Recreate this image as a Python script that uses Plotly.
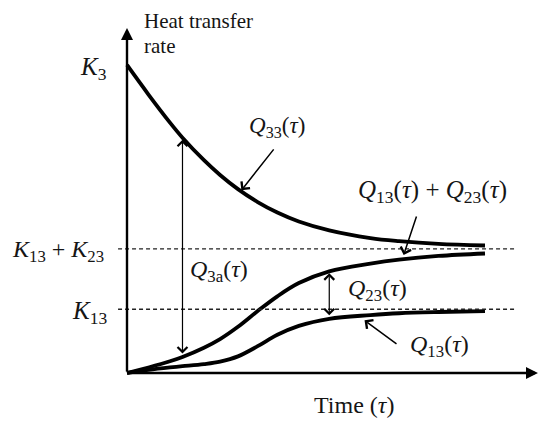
import plotly.graph_objects as go

# ---- data (schematic values) ----
tau = [0, 0.6, 1.2, 1.55, 2.15, 2.6, 3.1, 3.65, 4.2, 4.8, 5.65, 6.8, 7.6, 8.7, 10.0]
q33 = [1.000, 0.904, 0.813, 0.764, 0.691, 0.643, 0.597, 0.555, 0.521, 0.492, 0.463, 0.438, 0.428, 0.419, 0.414]
q13_plus_q23 = [0.000, 0.018, 0.038, 0.052, 0.082, 0.110, 0.150, 0.201, 0.249, 0.292, 0.330, 0.355, 0.368, 0.380, 0.388]
q13 = [0.000, 0.010, 0.018, 0.022, 0.029, 0.037, 0.054, 0.087, 0.124, 0.153, 0.176, 0.188, 0.194, 0.198, 0.201]

K3 = 1.0
K13_K23 = 0.403
K13 = 0.207

Y_LABEL_LINES = ["Heat transfer", "rate"]
X_LABEL = "Time (<i>τ</i>)"
K_LABELS = ["<i>K</i><sub>3</sub>", "<i>K</i><sub>13</sub> + <i>K</i><sub>23</sub>", "<i>K</i><sub>13</sub>"]

i_q3a = 3    # index of tau where the Q3a double arrow is drawn
i_q23 = 10   # index of tau where the Q23 double arrow is drawn

FONT = "Liberation Serif"
INK = "#151515"

fig = go.Figure()
for ys in (q33, q13_plus_q23, q13):
    fig.add_trace(go.Scatter(x=tau, y=ys, mode="lines",
                             line=dict(color="black", width=3.8, shape="spline", smoothing=1.0),
                             hoverinfo="skip", showlegend=False))

# dashed reference levels
for lvl in (K13_K23, K13):
    fig.add_shape(type="line", xref="x", yref="y", x0=-0.25, x1=10.85, y0=lvl, y1=lvl,
                  line=dict(color="#222", width=1.3, dash="4px,3px"))

ann = []
# axes with arrows
ann.append(dict(x=0, y=1.12, ax=0, ay=0, xref="x", yref="y", axref="x", ayref="y",
                showarrow=True, arrowhead=2, arrowwidth=2.4, arrowsize=1, arrowcolor="black",
                text="", standoff=0))
ann.append(dict(x=11.48, y=0, ax=0, ay=0, xref="x", yref="y", axref="x", ayref="y",
                showarrow=True, arrowhead=2, arrowwidth=2.4, arrowsize=1, arrowcolor="black",
                text="", standoff=0))

# double arrows
for i, top, bot in ((i_q3a, q33, q13_plus_q23), (i_q23, q13_plus_q23, q13)):
    ann.append(dict(x=tau[i], y=top[i], ax=tau[i], ay=bot[i], xref="x", yref="y",
                    axref="x", ayref="y", showarrow=True, arrowside="end+start",
                    arrowhead=4, startarrowhead=4, arrowwidth=1.2, arrowsize=1.6,
                    startarrowsize=1.6, arrowcolor="black", text="", standoff=2, startstandoff=2))

# pointer arrows
for (tx, ty, sx, sy) in ((3.16, 0.588, 4.13, 0.731), (7.71, 0.377, 8.10, 0.513), (6.59, 0.175, 7.57, 0.091)):
    ann.append(dict(x=tx, y=ty, ax=sx, ay=sy, xref="x", yref="y", axref="x", ayref="y",
                    showarrow=True, arrowhead=4, arrowwidth=1.5, arrowsize=1.4,
                    arrowcolor="black", text="", standoff=2))

def label(text, x, y, xanchor="center", size=24, align="center", yanchor="middle"):
    ann.append(dict(x=x, y=y, xref="x", yref="y", text=text, showarrow=False,
                    xanchor=xanchor, yanchor=yanchor, align=align, borderpad=0,
                    font=dict(family=FONT, size=size, color=INK)))

label("<i>Q</i><sub>33</sub>(<i>τ</i>)", 4.19, 0.80, size=23)
label("<i>Q</i><sub>13</sub>(<i>τ</i>)&nbsp;+&nbsp;<i>Q</i><sub>23</sub>(<i>τ</i>)", 8.52, 0.588, size=25)
label("<i>Q</i><sub>23</sub>(<i>τ</i>)", 7.01, 0.268)
label("<i>Q</i><sub>3a</sub>(<i>τ</i>)", 2.57, 0.331)
label("<i>Q</i><sub>13</sub>(<i>τ</i>)", 8.74, 0.088)
label(X_LABEL, 6.34, -0.104, size=24)
label(Y_LABEL_LINES[0], 0.45, 1.184, xanchor="left", size=21, align="left", yanchor="top")
label(Y_LABEL_LINES[1], 0.45, 1.104, xanchor="left", size=21, align="left", yanchor="top")
for txt, lvl, xr, sz in zip(K_LABELS, (0.99, 0.396, 0.198), (-0.53, -0.62, -0.53), (25, 24, 25)):
    label(txt, xr, lvl, xanchor="right", size=sz)

# page body has an 8px margin: figure spans page pixels 8..550 x 8..429
fig.update_layout(
    width=542, height=421,
    margin=dict(l=0, r=0, t=0, b=0),
    paper_bgcolor="white", plot_bgcolor="white",
    xaxis=dict(range=[-3.324, 11.816], visible=False, fixedrange=True),
    yaxis=dict(range=[-0.1818, 1.185], visible=False, fixedrange=True),
    annotations=ann, showlegend=False,
)
fig.write_html("out.html")
